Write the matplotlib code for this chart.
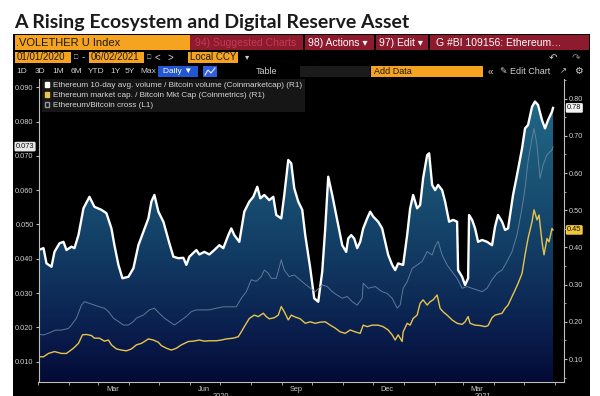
import numpy as np
import pandas as pd
import matplotlib
matplotlib.use('Agg')
import matplotlib.pyplot as plt
import matplotlib.dates as mdates
from matplotlib.patches import Rectangle, PathPatch, Patch
from matplotlib.lines import Line2D
from matplotlib.colors import LinearSegmentedColormap
from matplotlib.ticker import FixedLocator, FixedFormatter, MultipleLocator

START = pd.Timestamp('2020-01-01')
END = START + pd.Timedelta(days=526)

# Ethereum 10-day avg. volume / Bitcoin volume (R1), days since 2020-01-01
vol_days = [0, 5, 8, 13, 16, 21, 25, 28, 33, 36,
            40, 45, 51, 56, 63, 68, 73, 76, 80, 84,
            90, 95, 100, 105, 110, 113, 116, 120, 125, 131,
            135, 140, 145, 148, 151, 156, 158, 161, 166, 171,
            176, 181, 185, 190, 193, 196, 201, 206, 211, 215,
            219, 222, 226, 231, 235, 238, 243, 246, 250, 253,
            256, 260, 264, 267, 272, 276, 280, 284, 287, 290,
            294, 297, 300, 304, 308, 310, 313, 316, 319, 322,
            325, 329, 332, 335, 340, 344, 347, 350, 354, 357,
            360, 365, 369, 372, 375, 379, 382, 385, 389, 391,
            394, 397, 400, 404, 407, 411, 415, 419, 420, 424,
            427, 430, 431, 434, 437, 440, 444, 449, 454, 457,
            460, 464, 467, 470, 475, 479, 484, 487, 490, 494,
            497, 500, 504, 507, 510, 514, 515]
vol_ratio = [.393, .398, .357, .348, .388, .411, .415, .393, .402, .398,
             .433, .505, .536, .509, .501, .492, .451, .406, .353, .317,
             .321, .344, .406, .442, .478, .523, .541, .496, .469, .411,
             .375, .371, .372, .353, .375, .388, .393, .381, .388, .381,
             .393, .406, .398, .433, .451, .433, .415, .496, .523, .536,
             .563, .532, .541, .527, .536, .487, .478, .541, .635, .626,
             .559, .523, .501, .433, .344, .263, .254, .335, .451, .590,
             .541, .501, .460, .406, .388, .424, .433, .424, .398, .415,
             .451, .478, .496, .483, .469, .451, .415, .380, .353, .339,
             .357, .353, .433, .505, .541, .505, .514, .586, .648, .653,
             .568, .554, .568, .554, .523, .469, .474, .469, .339, .321,
             .299, .317, .487, .474, .451, .415, .420, .415, .406, .456,
             .487, .469, .447, .451, .541, .595, .666, .720, .729, .778,
             .792, .783, .742, .720, .742, .765, .775]

# Ethereum market cap / Bitcoin market cap (R1)
mcap_days = [0, 5, 10, 16, 23, 28, 35, 40, 44, 48,
             53, 56, 61, 66, 70, 73, 78, 83, 88, 93,
             98, 103, 106, 110, 115, 120, 123, 128, 133, 138,
             143, 150, 155, 161, 166, 171, 178, 183, 188, 195,
             200, 203, 206, 211, 216, 220, 225, 228, 231, 236,
             240, 243, 246, 250, 253, 256, 262, 267, 272, 277,
             282, 287, 292, 297, 302, 307, 312, 317, 322, 325,
             329, 334, 340, 345, 350, 354, 357, 360, 364, 365,
             369, 372, 375, 379, 382, 385, 389, 392, 395, 399,
             402, 405, 409, 414, 419, 424, 427, 430, 432, 437,
             442, 447, 450, 454, 457, 464, 467, 470, 474, 477,
             480, 484, 487, 490, 494, 496, 499, 501, 504, 506,
             509, 511, 514, 515]
mcap_ratio = [.106, .106, .115, .120, .115, .115, .129, .142, .165, .166,
              .163, .156, .156, .148, .151, .138, .127, .124, .122, .127,
              .138, .142, .147, .154, .151, .145, .136, .129, .124, .129,
              .138, .147, .148, .151, .148, .149, .149, .151, .154, .156,
              .160, .173, .187, .209, .218, .214, .223, .214, .208, .211,
              .218, .241, .227, .205, .218, .214, .208, .196, .200, .196,
              .199, .200, .191, .183, .173, .169, .178, .173, .169, .191,
              .187, .191, .191, .187, .178, .165, .151, .165, .147, .173,
              .196, .191, .209, .218, .250, .259, .245, .254, .259, .272,
              .236, .227, .218, .205, .196, .193, .200, .214, .196, .191,
              .190, .187, .190, .211, .218, .223, .236, .245, .268, .285,
              .303, .330, .380, .424, .469, .501, .474, .487, .415, .380,
              .424, .415, .451, .447]

# Ethereum/Bitcoin cross (L1)
cross_days = [0, 5, 10, 17, 23, 30, 33, 38, 43, 46,
              51, 56, 61, 66, 70, 75, 80, 85, 90, 95,
              98, 105, 111, 116, 121, 126, 131, 136, 141, 148,
              153, 158, 165, 171, 178, 185, 191, 198, 203, 208,
              213, 218, 223, 226, 230, 233, 238, 243, 246, 251,
              256, 264, 270, 277, 284, 289, 294, 299, 304, 309,
              314, 319, 324, 325, 330, 337, 344, 349, 354, 359,
              362, 365, 369, 374, 379, 384, 389, 394, 397, 400,
              404, 409, 414, 419, 424, 429, 434, 439, 444, 449,
              454, 459, 464, 469, 474, 479, 484, 487, 490, 494,
              496, 499, 502, 505, 509, 512, 514, 515]
cross_vals = [.0180, .0178, .0183, .0192, .0192, .0197, .0207, .0227, .0265, .0275,
              .0270, .0265, .0260, .0256, .0246, .0227, .0217, .0207, .0207, .0217,
              .0227, .0236, .0251, .0256, .0241, .0227, .0217, .0207, .0217, .0232,
              .0246, .0251, .0251, .0251, .0256, .0260, .0260, .0260, .0285, .0304,
              .0339, .0334, .0348, .0367, .0358, .0343, .0343, .0397, .0367, .0348,
              .0353, .0333, .0319, .0304, .0324, .0319, .0304, .0294, .0285, .0290,
              .0275, .0265, .0285, .0329, .0314, .0319, .0304, .0299, .0285, .0256,
              .0265, .0314, .0333, .0372, .0382, .0392, .0421, .0411, .0436, .0451,
              .0411, .0382, .0362, .0343, .0314, .0319, .0314, .0309, .0304, .0314,
              .0339, .0358, .0367, .0392, .0421, .0470, .0548, .0606, .0683, .0751,
              .0780, .0731, .0634, .0673, .0703, .0712, .0717, .0727]

month_ticks = ['2020-03-15', '2020-06-15', '2020-09-15', '2020-12-15', '2021-03-15']
month_labels = ['Mar', 'Jun', 'Sep', 'Dec', 'Mar']
year_ticks = ['2020-07-02', '2021-03-21']
year_labels = ['2020', '2021']
left_ticks = [0.01, 0.02, 0.03, 0.04, 0.05, 0.06, 0.07, 0.08, 0.09]
right_ticks = [0.1, 0.2, 0.3, 0.4, 0.5, 0.6, 0.7, 0.8]

L_LIM = (0.00417, 0.0924)
R_LIM = (0.039, 0.8527)

UI = ['Liberation Sans', 'DejaVu Sans']
ORANGE = '#f6a41f'
RED = '#8e1a2d'
GREY = '#cfcfcf'

W, H = 600, 396
fig = plt.figure(figsize=(6, 3.96), dpi=100)
fig.patch.set_facecolor('white')


def fx(x):
    return x / W


def fy(y):
    return 1 - y / H


def box(x0, y0, x1, y1, color):
    fig.patches.append(Rectangle((fx(x0), fy(y1)), (x1 - x0) / W, (y1 - y0) / H,
                                 transform=fig.transFigure, facecolor=color,
                                 edgecolor='none', zorder=-5))


def label(x, y, s, color='white', size=7.5, ha='left'):
    fig.text(fx(x), fy(y), s, color=color, fontsize=size, ha=ha, va='center', family=UI)


# title
fig.text(fx(14), fy(28), 'A Rising Ecosystem and Digital Reserve Asset', fontsize=14,
         fontweight='bold', family='Lato', color='#1a1a1a', va='baseline')

# terminal panel
box(13, 34, 590, 396, 'black')

# row 1
box(14.5, 35, 190, 50, ORANGE)
box(190, 35, 589, 50, RED)
for sx in [304, 375, 429]:
    box(sx - 1, 35, sx + 1, 50, 'black')
label(16, 42.5, '.VOLETHER U Index', '#1a1a1a', 8)
label(195, 42.5, '94) Suggested Charts', '#c23a50', 7.5)
label(308, 42.5, '98) Actions \u25be', 'white', 7.5)
label(379, 42.5, '97) Edit \u25be', 'white', 7.5)
label(436, 42.5, 'G #BI 109156: Ethereum\u2026', 'white', 7.5)

# row 2
box(15, 52, 71, 63, ORANGE)
box(89, 52, 144, 63, ORANGE)
box(188, 52, 238, 63, ORANGE)
label(16.5, 57.5, '01/01/2020', '#1a1a1a', 7)
label(90.5, 57.5, '06/02/2021', '#1a1a1a', 7)
label(190, 57.5, 'Local CCY', '#1a1a1a', 7)
label(76.5, 57.5, '\u25a1', GREY, 5, 'center')
label(149.5, 57.5, '\u25a1', GREY, 5, 'center')
label(83.5, 57.5, '-', GREY, 7, 'center')
label(157, 57.5, '<', GREY, 7, 'center')
label(170, 57.5, '>', GREY, 7, 'center')
label(247, 57.5, '\u25be', GREY, 6, 'center')
label(553, 58, '\u21b6', GREY, 7.5, 'center')
label(576, 58, '\u21b7', '#888888', 7.5, 'center')

# row 3
for s, cx in zip(['1D', '3D', '1M', '6M', 'YTD', '1Y', '5Y', 'Max'],
                 [22, 40, 58, 76, 96, 115, 130, 148]):
    label(cx, 71.5, s, GREY, 6, 'center')
box(158, 66, 198, 77, '#2356d2')
label(178, 71.5, 'Daily \u25bc', 'white', 6, 'center')
box(203, 66, 217, 77, '#2f5fdc')
fig.add_artist(Line2D([fx(205), fx(208), fx(211), fx(215)],
                      [fy(75), fy(70), fy(73), fy(68)],
                      transform=fig.transFigure, color='white', lw=0.7))
label(267, 71.5, 'Table', GREY, 6.5, 'center')
box(300, 66, 370, 77, '#1b1b1b')
box(371, 66, 483, 77, ORANGE)
label(374, 71.5, 'Add Data', '#1a1a1a', 6.5)
label(490, 71.5, '\u00ab', GREY, 7, 'center')
label(500, 71.5, '\u270e Edit Chart', GREY, 6.5)
label(563, 71.5, '\u2197', GREY, 6, 'center')
label(578, 71.5, '\u2699', GREY, 7, 'center')

# chart axes
ax = fig.add_axes([fx(38.5), fy(381.7), (564 - 38.5) / W, (381.7 - 79) / H])
ax2 = ax.twinx()
ax.set_zorder(ax2.get_zorder() + 1)
ax.patch.set_visible(False)
ax2.patch.set_visible(False)

vol_dates = START + pd.to_timedelta(vol_days, unit='D')
mcap_dates = START + pd.to_timedelta(mcap_days, unit='D')
cross_dates = START + pd.to_timedelta(cross_days, unit='D')

# gradient area under the volume ratio line
fill = ax2.fill_between(vol_dates, vol_ratio, R_LIM[0], facecolor='none', edgecolor='none')
cmap = LinearSegmentedColormap.from_list(
    'bbg', [(0.0, '#040a36'), (0.17, '#0a1f4e'), (0.43, '#123c64'),
            (0.73, '#1b5878'), (1.0, '#246b8e')])
grad = np.linspace(0, 1, 256).reshape(-1, 1)
x0n, x1n = mdates.date2num(START), mdates.date2num(END)
im = ax2.imshow(grad, extent=[x0n, x1n, R_LIM[0], R_LIM[1]], origin='lower',
                aspect='auto', cmap=cmap, zorder=1)
clip = PathPatch(fill.get_paths()[0], transform=ax2.transData,
                 facecolor='none', edgecolor='none')
ax2.add_patch(clip)
im.set_clip_path(clip)

ax2.plot(mcap_dates, mcap_ratio, color='#e8c44c', lw=1.0, zorder=3)
ax2.plot(vol_dates, vol_ratio, color='white', lw=1.7, zorder=4, solid_joinstyle='round')
ax.plot(cross_dates, cross_vals, color='#6d86a4', lw=0.7, alpha=0.85)

ax.set_xlim(START, END)
ax2.set_xlim(START, END)
ax.set_ylim(*L_LIM)
ax2.set_ylim(*R_LIM)

# axes styling
for a in (ax, ax2):
    for sp in a.spines.values():
        sp.set_visible(False)
ax.spines['left'].set_visible(True)
ax.spines['bottom'].set_visible(True)
ax2.spines['right'].set_visible(True)
for sp in (ax.spines['left'], ax.spines['bottom'], ax2.spines['right']):
    sp.set_color('#bdbdbd')
    sp.set_linewidth(0.8)

ax.yaxis.set_major_locator(FixedLocator(left_ticks))
ax.yaxis.set_major_formatter(FixedFormatter(['%.3f' % v for v in left_ticks]))
ax2.yaxis.set_major_locator(FixedLocator(right_ticks))
ax2.yaxis.set_major_formatter(FixedFormatter(['%.2f' % v for v in right_ticks]))
ax2.yaxis.set_minor_locator(MultipleLocator(0.05))
ax.tick_params(axis='y', colors='#bdbdbd', labelcolor=GREY, labelsize=5.3,
               length=2.5, width=0.8, pad=1)
ax2.tick_params(axis='y', which='major', colors='#bdbdbd', labelcolor=GREY,
                labelsize=5.3, length=2.5, width=0.8, pad=1)
ax2.tick_params(axis='y', which='minor', colors='#bdbdbd', length=1.5, width=0.6)
for t in ax.get_yticklabels() + ax2.get_yticklabels():
    t.set_family(UI)

ax.xaxis.set_major_locator(FixedLocator(mdates.date2num(pd.to_datetime(month_ticks))))
ax.xaxis.set_major_formatter(FixedFormatter(month_labels))
ax.xaxis.set_minor_locator(mdates.MonthLocator())
ax.tick_params(axis='x', which='major', length=0, labelcolor=GREY, labelsize=5.3, pad=3)
ax.tick_params(axis='x', which='minor', colors='#bdbdbd', length=2, width=0.6)
for t in ax.get_xticklabels():
    t.set_family(UI)
ax2.tick_params(axis='x', which='both', length=0, labelbottom=False)
for d, s in zip(year_ticks, year_labels):
    ax.text(pd.Timestamp(d), -0.037, s, transform=ax.get_xaxis_transform(),
            ha='center', va='top', color=GREY, fontsize=5.3, family=UI)

# last-value tags
tag = dict(ha='left', va='center', fontsize=5.3, color='#111111', family=UI)
ax2.text(1.006, vol_ratio[-1], '%.2f' % vol_ratio[-1], transform=ax2.get_yaxis_transform(),
         bbox=dict(boxstyle='round,pad=0.18', facecolor='#f2f2f2', edgecolor='none'), **tag)
ax2.text(1.006, mcap_ratio[-1], '%.2f' % mcap_ratio[-1], transform=ax2.get_yaxis_transform(),
         bbox=dict(boxstyle='round,pad=0.18', facecolor='#f0c63c', edgecolor='none'), **tag)
tag['ha'] = 'right'
ax.text(-0.008, cross_vals[-1], '%.3f' % cross_vals[-1], transform=ax.get_yaxis_transform(),
        bbox=dict(boxstyle='round,pad=0.18', facecolor='#e6e6e6', edgecolor='none'), **tag)

# legend
handles = [Patch(facecolor='white', edgecolor='white'),
           Patch(facecolor='#e8c44c', edgecolor='#e8c44c'),
           Patch(facecolor='none', edgecolor='#9a9a9a')]
names = ['Ethereum 10-day avg. volume / Bitcoin volume (Coinmarketcap) (R1)',
         'Ethereum market cap. / Bitcoin Mkt Cap (Coinmetrics) (R1)',
         'Ethereum/Bitcoin cross (L1)']
leg = ax.legend(handles, names, loc='upper left', bbox_to_anchor=(0.006, 1.0),
                borderaxespad=0, borderpad=0.35, labelspacing=0.3, handlelength=0.6,
                handleheight=0.6, handletextpad=0.4, fancybox=False, frameon=True,
                facecolor='#161616', edgecolor='none', framealpha=1,
                prop={'family': UI, 'size': 5.9})
for t in leg.get_texts():
    t.set_color('#d6d6d6')

fig.savefig('out.png', dpi=100)
